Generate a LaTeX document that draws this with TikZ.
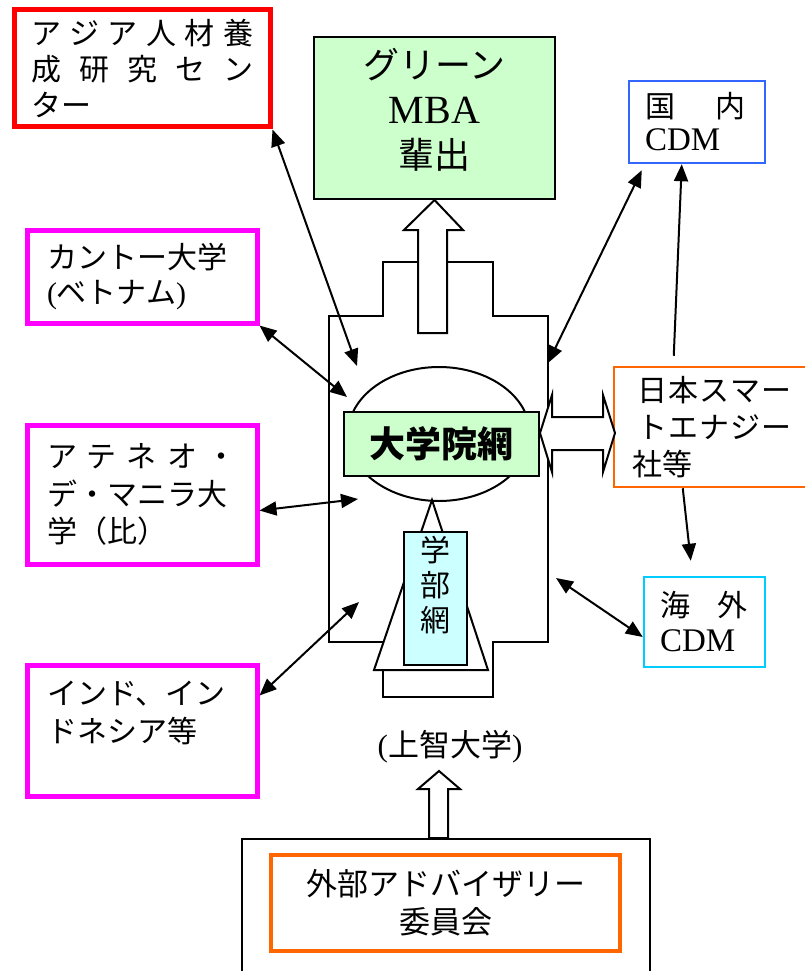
\documentclass[tikz,border=0pt]{standalone}
\usepackage{fontspec}
\setmainfont{Liberation Serif}
\newfontfamily\jp{Noto Sans CJK JP}
\usepackage{tikz}
\usetikzlibrary{arrows.meta}
\usetikzlibrary{shapes.geometric}
\usetikzlibrary{calc}

\definecolor{uniPink}{HTML}{FF00FF}
\definecolor{asiaRed}{HTML}{FF0000}
\definecolor{smartOrange}{HTML}{FF6600}
\definecolor{cdmBlue}{HTML}{3366FF}
\definecolor{cdmCyan}{HTML}{00CCFF}
\definecolor{paleGreen}{HTML}{CCFFCC}
\definecolor{paleCyan}{HTML}{CCFFFF}

\tikzset{
  box/.style={draw, rectangle, inner sep=0pt, font=\jp\fontsize{30}{35}\selectfont},
  uni/.style={box, draw=uniPink, line width=5pt, minimum width=230pt, text width=190pt, align=left},
  link/.style={line width=2pt, {Triangle[length=17pt,width=14pt]}-{Triangle[length=17pt,width=14pt]}},
  onelink/.style={line width=2pt, -{Triangle[length=17pt,width=14pt]}},
  hollow/.style={draw, line width=2pt, fill=white, line join=miter},
}

\begin{document}
\begin{tikzpicture}[x=1pt, y=-1pt]
            \useasboundingbox (0,0) rectangle (805,971);

            \node[box, draw=asiaRed, line width=5pt, minimum width=256pt, minimum height=117pt,
                  text width=222pt, align=left, font=\jp\fontsize{30}{36}\selectfont] (asia) at (142,68.5)
                {\makebox[222pt][s]{ア\hfill ジ\hfill ア\hfill 人\hfill 材\hfill 養}\\
                 \makebox[222pt][s]{成\hfill 研\hfill 究\hfill セ\hfill ン}\\ター};
            \node[uni, minimum height=93pt] (cantho) at (142,276.5)
                {カントー大学\\{\rmfamily(}ベトナム{\rmfamily)}};
            \node[uni, minimum height=139pt, font=\jp\fontsize{30}{37.5}\selectfont] (ateneo) at (142,494.5)
                {\makebox[190pt][s]{ア\hfill テ\hfill ネ\hfill オ\hfill ・}\\デ・マニラ大\\学（比）};
            \node[uni, minimum height=131pt, font=\jp\fontsize{30}{38}\selectfont] (india) at (142,730.5)
                {インド、イン\\ドネシア等\\\mbox{}};

            \node[box, fill=paleGreen, line width=2pt, minimum width=241pt, minimum height=162pt,
                  align=center, font=\jp\fontsize{36}{45}\selectfont] (mba) at (434.5,118)
                {グリーン\\{\rmfamily\fontsize{40}{45}\selectfont MBA}\\輩出\\[-25pt]\mbox{}};
            \node[box, draw=cdmBlue, line width=2.5pt, minimum width=136pt, minimum height=82pt,
                  text width=104pt, align=left, font=\jp\fontsize{30}{33}\selectfont] (kokunai) at (697,122)
                {\makebox[100pt][s]{国\hfill 内}\\{\rmfamily\fontsize{33}{33}\selectfont CDM}};
            \node[box, draw=smartOrange, line width=2.5pt, minimum width=206pt, minimum height=120pt,
                  text width=170pt, align=left, font=\jp\fontsize{30}{37}\selectfont] (nihon) at (717,427)
                {\hspace*{5pt}\makebox[155pt][s]{日\hfill 本\hfill ス\hfill マ\hfill ー}\\
                 \hspace*{5pt}\makebox[155pt][s]{ト\hfill エ\hfill ナ\hfill ジ\hfill ー}\\社等};
            \node[box, draw=cdmCyan, line width=2.5pt, minimum width=121pt, minimum height=90pt,
                  text width=89pt, align=left, font=\jp\fontsize{30}{35}\selectfont] (kaigai) at (704.5,622)
                {\makebox[87pt][s]{海\hfill 外}\\{\rmfamily\fontsize{33}{33}\selectfont CDM}};

            \draw[line width=2pt] (329,316) -- (383,316) -- (383,262) -- (493,262) -- (493,316)
                -- (548,316) -- (548,642) -- (493,642) -- (493,697) -- (383,697) -- (383,642)
                -- (329,642) -- cycle;
            \node[draw, ellipse, line width=2pt, fill=white, minimum width=182pt, minimum height=134pt] (gradoval) at (439,434) {};
            \draw[hollow] (432,500) -- (488,670) -- (374,670) -- cycle;
            \node[box, fill=paleGreen, line width=2pt, minimum width=195pt, minimum height=64pt,
                  font=\jp\bfseries\fontsize{36}{40}\selectfont] (grad) at (441.5,444) {大学院網};
            \node[box, fill=paleCyan, line width=2pt, minimum width=63pt, minimum height=133pt,
                  align=center, font=\jp\fontsize{30}{35}\selectfont] (faculty) at (435.5,598.5)
                {学\\部\\網\\[-5pt]\mbox{}};
            \draw[hollow] (540,433) -- (552,395) -- (552,417) -- (603,417) -- (603,395) -- (615,433)
                -- (603,472) -- (603,450) -- (552,450) -- (552,472) -- cycle;
            \draw[hollow] (418,333) -- (418,230) -- (404,230) -- (mba.south) -- (463,230) -- (447,230)
                -- (447,333) -- cycle;

            \node[font=\jp\fontsize{31}{35}\selectfont] (sophia) at (450,747) {{\rmfamily(}上智大学{\rmfamily)}};
            \node[box, line width=2pt, minimum width=408pt, minimum height=162pt] (board) at (446,920) {};
            \node[box, draw=smartOrange, line width=3.5pt, minimum width=349pt, minimum height=96pt,
                  align=center, font=\jp\fontsize{31}{38}\selectfont] (advisory) at (445.5,903)
                {外部アドバイザリー\\委員会};
            \draw[hollow] (429,838) -- (429,789) -- (418,789) -- (439,771) -- (460,789) -- (448,789)
                -- (448,838) -- cycle;

            \coordinate (toAsia) at (357,366);
            \coordinate (toCantho) at (347,397);
            \coordinate (toAteneo) at (358,499);
            \coordinate (toIndia) at (359,602);
            \coordinate (toKokunai) at (548,363);
            \coordinate (toKaigai) at (556,578);
            \draw[link] (asia.south east) -- (toAsia);
            \draw[link] (cantho.south east) -- (toCantho);
            \draw[link] ($(ateneo.east)+(0,16)$) -- (toAteneo);
            \draw[link] ($(india.east)+(0,-35)$) -- (toIndia);
            \draw[link] (toKokunai) -- ($(kokunai.south west)+(14,6)$);
            \draw[onelink] ($(nihon.north west)+(61,-10)$) -- ($(kokunai.south west)+(54,0)$);
            \draw[onelink] ($(nihon.south west)+(70,0)$) -- ($(kaigai.north west)+(48,-15)$);
            \draw[link] (toKaigai) -- ($(kaigai.west)+(0,15)$);
        \end{tikzpicture}
\end{document}
